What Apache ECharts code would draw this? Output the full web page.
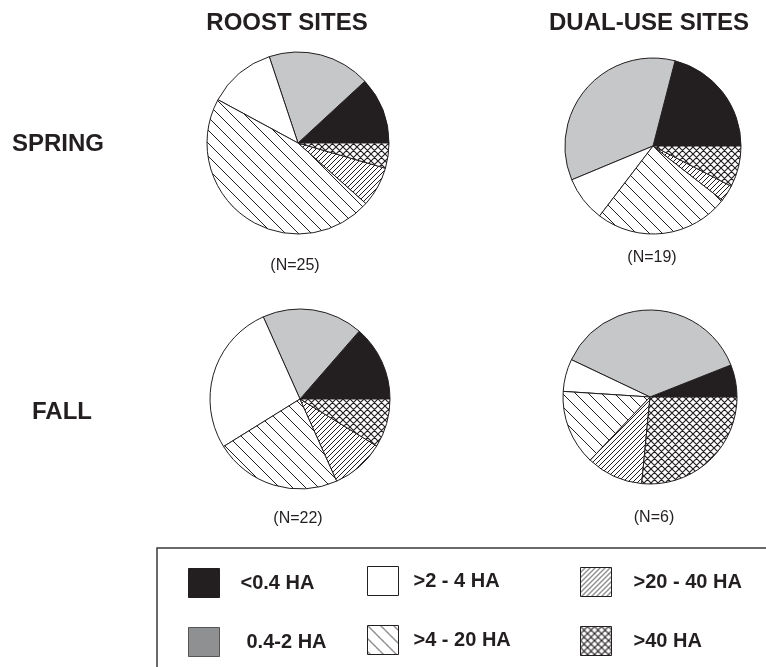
<!DOCTYPE html>
<html>
<head>
<meta charset="utf-8">
<script src="https://cdn.jsdelivr.net/npm/echarts@6/dist/echarts.min.js"></script>
<style>
html,body{margin:0;padding:0;background:#fff;}
#chart{width:766px;height:667px;}
</style>
</head>
<body>
<div id="chart"></div>
<script>
// Categories (size classes)
const categories = ['<0.4 HA', '0.4-2 HA', '>2 - 4 HA', '>4 - 20 HA', '>20 - 40 HA', '>40 HA'];
// Slice values (degrees of each pie)
const roostSpring = [42.7, 65.7, 43.2, 166.7, 25.6, 16.1];
const dualSpring  = [75.5, 127.1, 30.0, 89.4, 10.8, 27.2];
const roostFall   = [48.9, 65.2, 97.8, 82.2, 34.4, 31.5];
const dualFall    = [21.6, 133.0, 21.7, 50.3, 37.9, 95.5];
const columnLabels = ['ROOST SITES', 'DUAL-USE SITES'];
const rowLabels = ['SPRING', 'FALL'];
const sampleLabels = ['(N=25)', '(N=19)', '(N=22)', '(N=6)'];

const INK = '#231f20';
const FONT = '"Liberation Sans", Arial, Helvetica, sans-serif';

function hatch(kind, s, lw) {
  const c = document.createElement('canvas');
  c.width = s; c.height = s;
  const g = c.getContext('2d');
  g.fillStyle = '#ffffff';
  g.fillRect(0, 0, s, s);
  g.strokeStyle = INK;
  g.lineWidth = lw;
  g.beginPath();
  for (let k = -1; k <= 1; k++) {
    if (kind.indexOf('\\') >= 0) { g.moveTo(k * s, 0); g.lineTo(k * s + s, s); }
    if (kind.indexOf('/') >= 0) { g.moveTo(k * s, s); g.lineTo(k * s + s, 0); }
  }
  g.stroke();
  return { image: c, repeat: 'repeat' };
}

const fills = [
  INK,
  '#c6c7c8',
  '#ffffff',
  hatch('\\', 13, 1),
  hatch('/', 5, 1),
  hatch('\\/', 7, 1.15)
];

function pieSeries(vals, center, r) {
  return {
    type: 'pie',
    center: center,
    radius: r,
    startAngle: 0,
    clockwise: false,
    silent: true,
    animation: false,
    label: { show: false },
    labelLine: { show: false },
    emphasis: { disabled: true },
    itemStyle: { borderColor: INK, borderWidth: 1 },
    data: vals.map((v, i) => ({ name: categories[i], value: v, itemStyle: { color: fills[i] } }))
  };
}

function legendCol(names, left, top, gapText) {
  return {
    orient: 'vertical',
    left: left,
    top: top,
    padding: 0,
    itemGap: 29,
    itemWidth: 31,
    itemHeight: 29,
    icon: 'rect',
    selectedMode: false,
    itemStyle: { borderColor: INK, borderWidth: 1 },
    textStyle: { fontFamily: FONT, fontWeight: 'bold', fontSize: 20, color: INK, padding: [6, 0, 0, gapText] },
    data: names.map(n => n === '0.4-2 HA'
      ? { name: n, itemStyle: { color: '#8f9091', borderColor: '#555' }, textStyle: { padding: [6, 0, 0, gapText + 6] } }
      : { name: n })
  };
}

function txt(text, x, y, size, weight, align) {
  return {
    type: 'text', silent: true,
    style: { text: text, x: x, y: y, fill: INK, font: weight + ' ' + size + 'px ' + FONT, textAlign: align, textVerticalAlign: 'middle' }
  };
}

const chart = echarts.init(document.getElementById('chart'), null, { renderer: 'canvas' });
chart.setOption({
  animation: false,
  backgroundColor: '#ffffff',
  legend: [
    legendCol([categories[0], categories[1]], 188, 568, 16),
    legendCol([categories[2], categories[3]], 367, 566, 10),
    legendCol([categories[4], categories[5]], 580, 567, 17)
  ],
  graphic: [
    { type: 'rect', silent: true, shape: { x: 157, y: 548, width: 700, height: 200 }, style: { fill: 'none', stroke: '#3a3a3a', lineWidth: 1.5 } },
    txt(columnLabels[0], 287, 23, 24, 'bold', 'center'),
    txt(columnLabels[1], 649, 23, 24, 'bold', 'center'),
    txt(rowLabels[0], 12, 144, 24, 'bold', 'left'),
    txt(rowLabels[1], 32, 412, 24, 'bold', 'left'),
    txt(sampleLabels[0], 295, 266, 16, 'normal', 'center'),
    txt(sampleLabels[1], 652, 258, 16, 'normal', 'center'),
    txt(sampleLabels[2], 298, 519, 16, 'normal', 'center'),
    txt(sampleLabels[3], 654, 518, 16, 'normal', 'center')
  ],
  series: [
    pieSeries(roostSpring, [298, 143], 91),
    pieSeries(dualSpring, [653, 146], 88),
    pieSeries(roostFall, [300, 399], 90),
    pieSeries(dualFall, [650, 397], 87)
  ]
});
</script>
</body>
</html>
